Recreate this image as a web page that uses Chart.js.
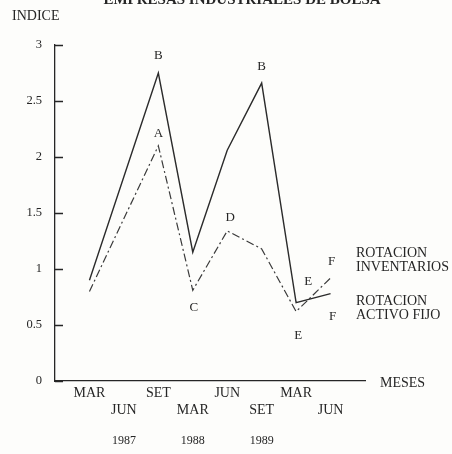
<!DOCTYPE html>
<html>
<head>
<meta charset="utf-8">
<script src="https://cdn.jsdelivr.net/npm/chart.js@4.4.1/dist/chart.umd.min.js"></script>
<style>
  html, body { margin: 0; padding: 0; background: #fdfdfb; }
  #chartDiv { position: relative; width: 452px; height: 454px; }
</style>
</head>
<body>
<div id="chartDiv"><canvas id="rotChart"></canvas></div>
<script>
// ---- DATA
var meses = ['MAR', 'JUN', 'SET', 'MAR', 'JUN', 'SET', 'MAR', 'JUN'];
var anios = ['', '1987', '', '1988', '', '1989', '', ''];
var rotacion_activo_fijo = [0.90, null, 2.75, 1.15, 2.06, 2.66, 0.70, 0.78];
var rotacion_inventarios = [0.80, null, 2.10, 0.81, 1.34, 1.18, 0.62, 0.92];
var letras_activo = ['', '', 'B', '', '', 'B', 'E', 'F'];
var letras_invent = ['', '', 'A', 'C', 'D', '', 'E', 'F'];
var y_ticks = [0, 0.5, 1, 1.5, 2, 2.5, 3];

var titulo = 'EMPRESAS INDUSTRIALES DE BOLSA';
var serif = "'Liberation Serif', 'DejaVu Serif', serif";
var ink = '#262626';

// letter offsets from their point (px)
var off_activo = [null, null, [0, -17], null, null, [0, -17], [12, -21], [2, 23]];
var off_invent = [null, null, [0, -12], [1, 17], [3, -13], null, [2, 24], [1, -16]];

function toPoints(arr) {
    var out = [];
    for (var i = 0; i < arr.length; i++) {
        out.push({ x: i, y: arr[i] });
    }
    return out;
}

var textos = {
    id: 'textos',
    afterDraw: function (chart) {
        var ctx = chart.ctx;
        var area = chart.chartArea;
        var xs = chart.scales.x;
        var ys = chart.scales.y;
        ctx.save();

        // inward ticks on y axis
        ctx.strokeStyle = ink;
        ctx.lineWidth = 1.3;
        ctx.beginPath();
        y_ticks.forEach(function (v) {
            var py = Math.round(ys.getPixelForValue(v)) + 0.5;
            ctx.moveTo(area.left, py);
            ctx.lineTo(area.left + 8, py);
        });
        ctx.stroke();

        ctx.fillStyle = ink;
        // title (cut at top like the scan)
        ctx.font = 'bold 15px ' + serif;
        ctx.textAlign = 'center';
        ctx.textBaseline = 'alphabetic';
        ctx.fillText(titulo, 242, 4);

        ctx.font = '14px ' + serif;
        ctx.textAlign = 'left';
        ctx.textBaseline = 'middle';
        ctx.fillText('INDICE', 12, 16);
        ctx.fillText('MESES', area.right + 15, area.bottom + 2);
        ctx.fillText('ROTACION', area.right - 9, 253);
        ctx.fillText('INVENTARIOS', area.right - 9, 267);
        ctx.fillText('ROTACION', area.right - 9, 301);
        ctx.fillText('ACTIVO FIJO', area.right - 9, 315);

        // years under the month labels
        ctx.font = '12px ' + serif;
        ctx.textAlign = 'center';
        anios.forEach(function (a, i) {
            if (!a) return;
            ctx.fillText(a, xs.getPixelForValue(i), area.bottom + 60);
        });

        // point letters
        ctx.font = '13px ' + serif;
        var sets = [[0, letras_activo, off_activo], [1, letras_invent, off_invent]];
        sets.forEach(function (s) {
            var meta = chart.getDatasetMeta(s[0]);
            s[1].forEach(function (l, i) {
                if (!l) return;
                var p = meta.data[i];
                ctx.fillText(l, p.x + s[2][i][0], p.y + s[2][i][1]);
            });
        });
        ctx.restore();
    }
};

var ctx = document.getElementById('rotChart').getContext('2d');
var myChart = new Chart(ctx, {
    type: 'line',
    data: {
        datasets: [{
            label: 'ROTACION ACTIVO FIJO',
            data: toPoints(rotacion_activo_fijo),
            borderColor: '#2b2b2b',
            borderWidth: 1.4,
            pointRadius: 0,
            tension: 0,
            spanGaps: true
        },
        {
            label: 'ROTACION INVENTARIOS',
            data: toPoints(rotacion_inventarios),
            borderColor: '#3a3a3a',
            borderWidth: 1.2,
            borderDash: [8, 3, 2, 3],
            pointRadius: 0,
            tension: 0,
            spanGaps: true
        }]
    },
    options: {
        responsive: true,
        maintainAspectRatio: false,
        animation: false,
        layout: { padding: { left: 0, top: 45, right: 87, bottom: 0 } },
        plugins: {
            legend: { display: false },
            tooltip: { enabled: false }
        },
        scales: {
            x: {
                type: 'linear',
                min: -1,
                max: 8,
                grid: { display: false, drawTicks: false },
                border: { display: true, color: ink, width: 1.3 },
                ticks: {
                    stepSize: 1,
                    autoSkip: false,
                    maxRotation: 0,
                    padding: 4,
                    color: ink,
                    font: { family: serif, size: 14 },
                    callback: function (v) {
                        var i = Math.round(v);
                        if (i < 0 || i >= meses.length) return '';
                        if (i % 2 == 0) return [meses[i]];
                        return ['', meses[i]];
                    }
                },
                afterFit: function (scale) { scale.height = 73; }
            },
            y: {
                min: 0,
                max: 3,
                grid: { display: false, drawTicks: false },
                border: { display: true, color: ink, width: 1.3 },
                ticks: {
                    stepSize: 0.5,
                    padding: 13,
                    color: ink,
                    font: { family: serif, size: 12.5 },
                    callback: function (v) { return String(v); }
                },
                afterFit: function (scale) { scale.width = 55; }
            }
        }
    },
    plugins: [textos]
});
</script>
</body>
</html>
